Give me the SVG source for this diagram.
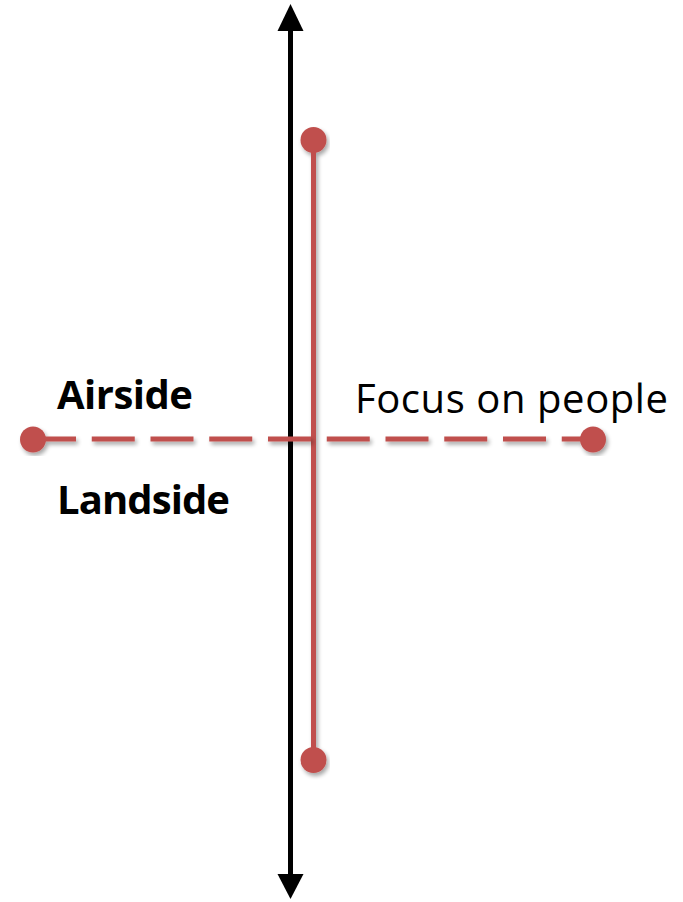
<svg xmlns="http://www.w3.org/2000/svg" width="683" height="902" viewBox="0 0 683 902">
  <style>
    .red { stroke: #C0504D; stroke-width: 5; fill: none; }
    .dot { fill: #C0504D; }
    .lbl { font-family: "Open Sans", "Liberation Sans", sans-serif; font-size: 40px; fill: #000; }
    .b { font-weight: bold; }
  </style>
  <defs>
    <filter id="sh" x="-10%" y="-10%" width="120%" height="120%">
      <feGaussianBlur in="SourceAlpha" stdDeviation="2"/>
      <feOffset dx="1.5" dy="2.5" result="o"/>
      <feComponentTransfer><feFuncA type="linear" slope="0.35"/></feComponentTransfer>
      <feMerge><feMergeNode/><feMergeNode in="SourceGraphic"/></feMerge>
    </filter>
  </defs>
  <rect width="683" height="902" fill="#fff"/>
  <g id="connectors">
    <g id="axis">
      <line x1="290.5" y1="28" x2="290.5" y2="876" stroke="#000" stroke-width="5"/>
      <polygon points="290.5,4 303.5,31 277.5,31" fill="#000"/>
      <polygon points="290.5,899 303.5,874 277.5,874" fill="#000"/>
    </g>
    <g id="vertical-red" filter="url(#sh)">
      <line class="red" x1="313.5" y1="140" x2="313.5" y2="760"/>
      <circle class="dot" cx="313.5" cy="140" r="13"/>
      <circle class="dot" cx="313.5" cy="760" r="13"/>
    </g>
    <g id="horizontal-red" filter="url(#sh)">
      <line class="red" x1="33" y1="439" x2="593" y2="439" stroke-dasharray="43 15.75"/>
      <circle class="dot" cx="33" cy="439.5" r="13"/>
      <circle class="dot" cx="593" cy="439.5" r="13"/>
    </g>
  </g>
  <g id="airside"><text class="lbl b" x="57" y="409" textLength="136">Airside</text></g>
  <g id="landside"><text class="lbl b" x="57" y="514" textLength="173">Landside</text></g>
  <g id="focus"><text class="lbl" x="355" y="413" font-size="41" textLength="313">Focus on people</text></g>
</svg>
